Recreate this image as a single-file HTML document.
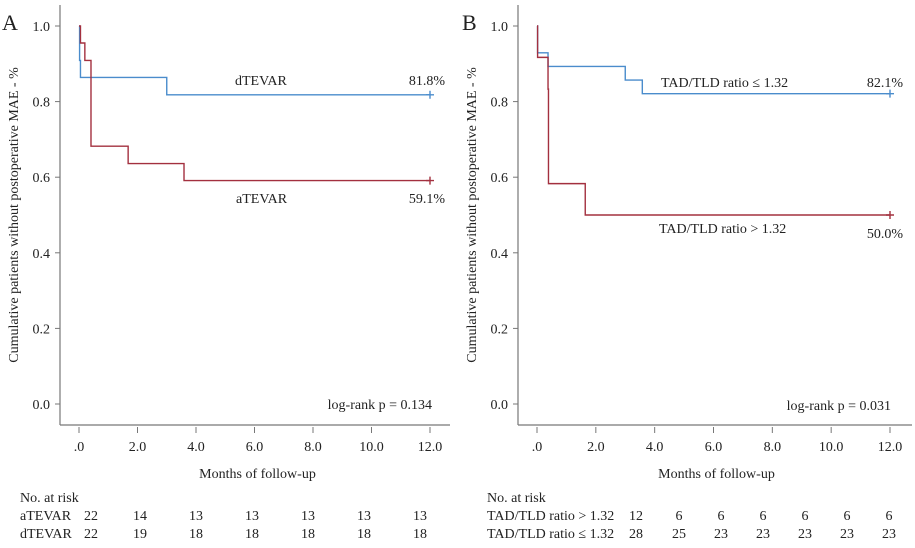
<!DOCTYPE html>
<html><head><meta charset="utf-8">
<style>
body{margin:0;background:#fff;width:915px;height:543px;overflow:hidden}
svg{font-family:"Liberation Serif",serif;font-size:13px;fill:#222}
</style></head>
<body>
<svg id="chart" width="915" height="543" viewBox="0 0 915 543" xmlns="http://www.w3.org/2000/svg"></svg>
<script>
const xTicks=[0,2,4,6,8,10,12];
const xTickLabels=[".0","2.0","4.0","6.0","8.0","10.0","12.0"];
const yTicks=[0,0.2,0.4,0.6,0.8,1.0];
const yTickLabels=["0.0","0.2","0.4","0.6","0.8","1.0"];
// Panel A
const aTimes=[0,0.05,0.2,0.41,1.68,3.59,12];
const aSurv=[1.0,0.955,0.909,0.682,0.636,0.591,0.591];
const dTimes=[0,0.02,0.05,3.0,12];
const dSurv=[1.0,0.909,0.864,0.818,0.818];
const riskA_a=[22,14,13,13,13,13,13];
const riskA_d=[22,19,18,18,18,18,18];
// Panel B
const hiTimes=[0,0.02,0.375,0.39,1.64,12];
const hiSurv=[1.0,0.917,0.833,0.583,0.5,0.5];
const loTimes=[0,0.02,0.375,3.0,3.58,12];
const loSurv=[1.0,0.929,0.893,0.857,0.821,0.821];
const riskB_hi=[12,6,6,6,6,6,6];
const riskB_lo=[28,25,23,23,23,23,23];

const svg=document.getElementById('chart');
const NS="http://www.w3.org/2000/svg";
function mk(tag,attrs,parent,text){const e=document.createElementNS(NS,tag);for(const k in attrs)e.setAttribute(k,attrs[k]);if(text!==undefined)e.textContent=text;(parent||svg).appendChild(e);return e;}

function panel(o){
  const g=mk('g',{});
  
  
  const X=t=>o.x0+(t/12)*(o.x12-o.x0);
  const Y=v=>404-v*378;
  mk('text',{x:o.lx,y:30,'font-size':'22'},g,o.letter);
  const ya=mk('line',{x1:o.ax,y1:5,x2:o.ax,y2:425,stroke:'#777','stroke-width':1.2},g);
  
  const xa=mk('line',{x1:o.ax,y1:425,x2:o.axEnd,y2:425,stroke:'#777','stroke-width':1.2},g);
  
  yTicks.forEach((v,i)=>{
    mk('line',{x1:o.ax-5,y1:Y(v),x2:o.ax,y2:Y(v),stroke:'#777'},g);
    const t=mk('text',{x:o.ax-10,y:Y(v)+5,'text-anchor':'end','font-size':'14'},g,yTickLabels[i]);
    
  });
  xTicks.forEach((v,i)=>{
    mk('line',{x1:X(v),y1:427,x2:X(v),y2:433,stroke:'#777'},g);
    const t=mk('text',{x:X(v),y:451,'text-anchor':'middle','font-size':'14'},g,xTickLabels[i]);
    
  });
  const xt=mk('text',{x:(o.x0+o.x12)/2+3,y:478,'text-anchor':'middle','font-size':'14'},g,'Months of follow-up');
  
  const yt=mk('text',{x:0,y:0,'text-anchor':'middle','font-size':'14',transform:`translate(${o.ax-42},215) rotate(-90)`},g,'Cumulative patients without postoperative MAE - %');
  
  o.series.forEach(s=>{
    let d=`M${X(s.t[0])},${Y(s.s[0])}`;
    for(let i=1;i<s.t.length;i++){d+=` H${X(s.t[i])} V${Y(s.s[i])}`;}
    const p=mk('path',{d:d,fill:'none',stroke:s.color,'stroke-width':1.4},g);
    
    const ex=X(s.t[s.t.length-1]),ey=Y(s.s[s.s.length-1]);
    const c=mk('path',{d:`M${ex-4},${ey}H${ex+4}M${ex},${ey-4}V${ey+4}`,stroke:s.color,'stroke-width':1.4},g);
    
  });
  o.labels.forEach(l=>{const t=mk('text',{x:l.x,y:l.y,'text-anchor':l.a||'start','font-size':'14'},g,l.t);});
  const rt=mk('text',{x:o.rx,y:502,'font-size':'14'},g,'No. at risk');
  
  o.risk.forEach((r,ri)=>{
    const y=520+ri*18;
    const n=mk('text',{x:o.rx,y:y,'font-size':'14'},g,r.name);
    
    r.vals.forEach((v,i)=>{const t=mk('text',{x:o.rcols[i],y:y,'text-anchor':'middle','font-size':'14'},g,String(v));});
  });
}
panel({name:'panel-a',letter:'A',lx:2,ax:60,axEnd:450,x0:79,x12:430,rx:20,
  rcols:[91,140,196,252,308,364,420],
  series:[{name:'dtevar-curve',t:dTimes,s:dSurv,color:'#4a8ccc'},{name:'atevar-curve',t:aTimes,s:aSurv,color:'#a3303f'}],
  labels:[{x:235,y:85,t:'dTEVAR',n:'dtevar-label'},{x:445,y:85,t:'81.8%',a:'end',n:'dtevar-pct'},{x:236,y:203,t:'aTEVAR',n:'atevar-label'},{x:445,y:203,t:'59.1%',a:'end',n:'atevar-pct'},{x:432,y:409,t:'log-rank p = 0.134',a:'end',n:'logrank-p'}],
  risk:[{name:'aTEVAR',vals:riskA_a},{name:'dTEVAR',vals:riskA_d}]});
panel({name:'panel-b',letter:'B',lx:462,ax:518,axEnd:912,x0:537,x12:890,rx:487,
  rcols:[636,679,721,763,805,847,889],
  series:[{name:'ratio-low-curve',t:loTimes,s:loSurv,color:'#4a8ccc'},{name:'ratio-high-curve',t:hiTimes,s:hiSurv,color:'#a3303f'}],
  labels:[{x:661,y:87,t:'TAD/TLD ratio ≤ 1.32',n:'ratio-low-label'},{x:903,y:87,t:'82.1%',a:'end',n:'ratio-low-pct'},{x:659,y:233,t:'TAD/TLD ratio > 1.32',n:'ratio-high-label'},{x:903,y:238,t:'50.0%',a:'end',n:'ratio-high-pct'},{x:891,y:410,t:'log-rank p = 0.031',a:'end',n:'logrank-p'}],
  risk:[{name:'TAD/TLD ratio > 1.32',vals:riskB_hi},{name:'TAD/TLD ratio ≤ 1.32',vals:riskB_lo}]});
</script>
</body></html>
